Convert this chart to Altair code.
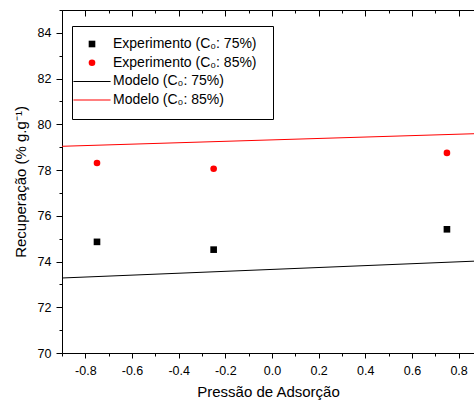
import altair as alt
import pandas as pd

# ---- data ----
exp_x = [-0.75, -0.25, 0.75]
exp_75 = [74.86, 74.52, 75.41]
exp_85 = [78.31, 78.06, 78.75]

model_x = [-0.9, 0.9]
model_75 = [73.28, 74.03]
model_85 = [79.04, 79.60]

series_names = [
    "Experimento (C\u2080: 75%)",
    "Experimento (C\u2080: 85%)",
    "Modelo (C\u2080: 75%)",
    "Modelo (C\u2080: 85%)",
]
series_colors = ["#000000", "#ff0000", "#000000", "#ff0000"]

x_ticks = [-0.9, -0.8, -0.7, -0.6, -0.5, -0.4, -0.3, -0.2, -0.1, 0.0,
           0.1, 0.2, 0.3, 0.4, 0.5, 0.6, 0.7, 0.8]
y_ticks = [70, 71, 72, 73, 74, 75, 76, 77, 78, 79, 80, 81, 82, 83, 84, 85]

x_title = "Pressão de Adsorção"
y_title = "Recuperação (% g.g\u207b\u00b9)"

# ---- tables ----
pts = pd.DataFrame({
    "x": exp_x + exp_x,
    "y": exp_75 + exp_85,
    "series": [series_names[0]] * len(exp_x) + [series_names[1]] * len(exp_x),
})
lines = pd.DataFrame({
    "x": model_x + model_x,
    "y": model_75 + model_85,
    "series": [series_names[2]] * len(model_x) + [series_names[3]] * len(model_x),
})

FONT = "Liberation Sans"
W, H = 412, 343

xscale = alt.Scale(domain=[-0.9, 0.866], nice=False, zero=False)
yscale = alt.Scale(domain=[70, 85], nice=False, zero=False)
color_scale = alt.Scale(domain=series_names, range=series_colors)
LINE_SYM = "M-5.6,-0.15H5.6V0.15H-5.6Z"
shape_scale = alt.Scale(
    domain=series_names,
    range=["square", "circle", LINE_SYM, LINE_SYM],
)

x_major = "abs(round(datum.value*10)) % 2 == 0"
y_major = "datum.value % 2 == 0"

x_axis = alt.Axis(
    orient="bottom", values=x_ticks, title=x_title,
    labelExpr=f"{x_major} ? replace(format(datum.value, '.1f'), '\u2212', '-') : ''",
    tickSize={"condition": {"test": x_major, "value": 5}, "value": 3},
    labelPadding=6, titlePadding=8, grid=False,
    domainColor="black", tickColor="black", labelColor="black", titleColor="black",
    labelFont=FONT, titleFont=FONT, labelFontSize=12.5, titleFontSize=15,
    titleFontWeight="normal", labelFlush=False, labelOverlap=False,
)
y_axis = alt.Axis(
    orient="left", values=y_ticks, title=y_title,
    labelExpr=f"{y_major} && datum.value < 85 ? format(datum.value, 'd') : ''",
    tickSize={"condition": {"test": y_major, "value": 6}, "value": 3},
    labelPadding=5, titlePadding=9, grid=False,
    domainColor="black", tickColor="black", labelColor="black", titleColor="black",
    labelFont=FONT, titleFont=FONT, labelFontSize=12.5, titleFontSize=15,
    titleFontWeight="normal", labelFlush=False, labelOverlap=False,
)
top_axis = alt.Axis(
    orient="bottom", offset=-H, values=x_ticks, labels=False, title=None,
    tickSize={"condition": {"test": x_major, "value": 6}, "value": 3},
    grid=False, domainColor="black", tickColor="black",
)

line_layer = alt.Chart(lines).mark_line(strokeWidth=1, clip=True).encode(
    x=alt.X("x:Q", scale=xscale, axis=x_axis),
    y=alt.Y("y:Q", scale=yscale, axis=y_axis),
    color=alt.Color("series:N", scale=color_scale, legend=None),
    detail="series:N",
)

legend = alt.Legend(
    title="\u00a0", titleOrient="right", titlePadding=5, titleFontSize=14,
    orient="none", legendX=10, legendY=16,
    strokeColor="black", fillColor="white", padding=11,
    labelFont=FONT, labelFontSize=14, labelColor="black",
    symbolSize=44, symbolOffset=2, labelOffset=14, rowPadding=4.7,
    symbolStrokeWidth=0, labelLimit=300,
)

point_layer = alt.Chart(pts).mark_point(filled=True, opacity=1, size=44, clip=True).encode(
    x=alt.X("x:Q", scale=xscale, axis=None),
    y=alt.Y("y:Q", scale=yscale, axis=None),
    color=alt.Color("series:N", scale=color_scale, legend=legend),
    shape=alt.Shape("series:N", scale=shape_scale, legend=legend),
)

top_layer = alt.Chart(pts).mark_point(opacity=0).encode(
    x=alt.X("x:Q", scale=xscale, axis=top_axis),
    y=alt.Y("y:Q", scale=yscale, axis=None),
)

chart = (
    alt.layer(line_layer, point_layer, top_layer)
    .resolve_axis(x="independent", y="independent")
    .resolve_legend(color="independent", shape="independent")
    .properties(
        width=W, height=H,
        padding={"left": 62, "top": 10, "right": 0, "bottom": 54},
        autosize=alt.AutoSizeParams(type="none"),
        background="white",
    )
    .configure_view(stroke=None)
)

chart.save("out.html", embed_options={"renderer": "svg", "actions": False})
